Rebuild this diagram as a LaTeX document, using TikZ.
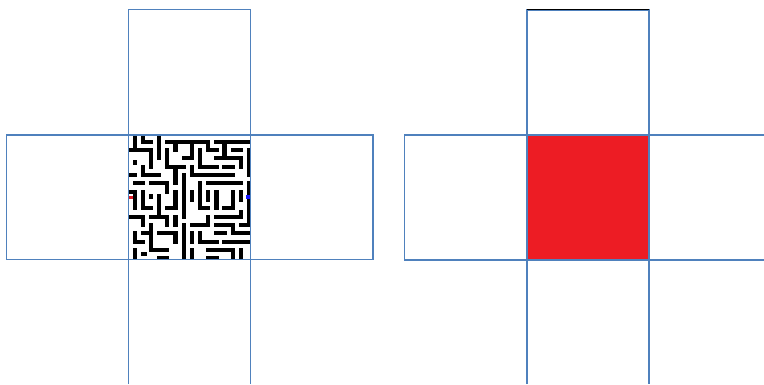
\documentclass[tikz,border=0pt]{standalone}
\definecolor{frameblue}{RGB}{79,129,189}
\definecolor{fillred}{RGB}{237,28,36}
\definecolor{markblue}{RGB}{20,20,255}
\definecolor{markred}{RGB}{220,30,40}
\tikzset{
  framebox/.style={draw=frameblue,line width=1.1pt},
  mazewall/.style={draw=black,line width=4.2pt,line cap=rect,line join=miter},
}
\begin{document}
\begin{tikzpicture}[x=1pt,y=-1pt]
\useasboundingbox (0,0) rectangle (764,384);
% ---------- left: maze ----------
\fill[white] (128,135) rectangle (250,259);
\begin{scope}
\clip (128.5,135.5) rectangle (250,259);
\begin{scope}[shift={(134.7pt,-141.7pt)},x=8.17pt,y=-8.33pt]
\draw[mazewall] (0,-1)--(0,1);
\draw[mazewall] (1,-1)--(1,0)--(2,0);
\draw[mazewall] (3,-1)--(3,2);
\draw[mazewall] (4,0)--(9,0);
\draw[mazewall] (10,0)--(14,0);
\draw[mazewall] (5,0)--(5,1);
\draw[mazewall] (7,0)--(7,2)--(6,2);
\draw[mazewall] (9,0)--(9,1)--(10,1);
\draw[mazewall] (11,0)--(11,2);
\draw[mazewall] (12,1)--(13,1);
\draw[mazewall] (-1,1)--(2,1)--(2,3);
\draw[mazewall] (4,1)--(4,3)--(6,3);
\draw[mazewall] (8,1)--(8,3)--(10,3);
\draw[mazewall] (10,2)--(13,2)--(13,3);
\draw[mazewall] (14,1)--(14,4);
\draw[mazewall] (0,2.5)--(0,2.6);
\draw[mazewall] (1,3)--(1,4)--(3,4);
\draw[mazewall] (-1,4)--(0,4);
\draw[mazewall] (5,3)--(5,5);
\draw[mazewall] (7,3)--(7,4)--(12,4);
\draw[mazewall] (11,3)--(12,3);
\draw[mazewall] (6,4)--(6,9);
\draw[mazewall] (2,5)--(4,5)--(4,6);
\draw[mazewall] (0,5)--(1,5);
\draw[mazewall] (-1,6)--(0,6)--(0,8);
\draw[mazewall] (8,5)--(8,8)--(9,8);
\draw[mazewall] (9,5)--(13,5);
\draw[mazewall] (9,6)--(9,7);
\draw[mazewall] (10,6)--(10,8);
\draw[mazewall] (12,6)--(12,8)--(11,8);
\draw[mazewall] (13,6)--(13,7);
\draw[mazewall] (14,5)--(14,10);
\draw[mazewall] (1,6)--(1,8)--(2,8);
\draw[mazewall] (2,6.5)--(2,6.6);
\draw[mazewall] (3,6.5)--(3,6.6);
\draw[mazewall] (3,7)--(3,9);
\draw[mazewall] (5,6)--(5,8)--(4,8);
\draw[mazewall] (7,6)--(7,7);
\draw[mazewall] (13,8.5)--(13,8.6);
\draw[mazewall] (-1,9)--(1,9)--(1,10);
\draw[mazewall] (2,9)--(4,9)--(4,10);
\draw[mazewall] (5,9)--(5,10);
\draw[mazewall] (0,11)--(0,12)--(1,12);
\draw[mazewall] (1,11)--(2,11);
\draw[mazewall] (2,10)--(2,13)--(4,13);
\draw[mazewall] (3,11)--(5,11)--(5,12);
\draw[mazewall] (6,10)--(6,14);
\draw[mazewall] (7,10)--(9,10)--(9,9);
\draw[mazewall] (7,11)--(7,12);
\draw[mazewall] (10,9)--(13,9);
\draw[mazewall] (8,11)--(8,12)--(10,12);
\draw[mazewall] (10,11)--(11,11);
\draw[mazewall] (7,13)--(7,14);
\draw[mazewall] (9,13)--(12,13)--(12,14);
\draw[mazewall] (10,10)--(12,10)--(12,11)--(14,11);
\draw[mazewall] (13,10)--(14,10);
\draw[mazewall] (11,12)--(14,12);
\draw[mazewall] (13,13)--(13,14);
\draw[mazewall] (0,13)--(0,14);
\draw[mazewall] (1,13.5)--(1.2,13.5);
\draw[mazewall] (3,14)--(4,14);
\draw[mazewall] (9,14)--(10,14);
\end{scope}
\end{scope}
\fill[markred] (128.5,195.5) rectangle (133,198.5);
\fill[markblue] (246,195) rectangle (250,198.5);
% left cross frames
\draw[framebox] (128.7,384) -- (128.7,9.7) -- (250.7,9.7) -- (250.7,384);
\draw[framebox] (6.3,135) rectangle (373,259.3);
\draw[framebox] (128.7,135) -- (250.7,135);
\draw[framebox] (128.7,259.3) -- (250.7,259.3);
% ---------- right: red square ----------
\fill[fillred] (527,135) rectangle (649,260);
\draw[framebox] (527,384) -- (527,10) -- (649,10) -- (649,384);
\draw[framebox] (767,135) -- (404.7,135) -- (404.7,260) -- (767,260);
\draw[black,line width=1.2pt] (527,9.3) -- (649,9.3);
\end{tikzpicture}
\end{document}
